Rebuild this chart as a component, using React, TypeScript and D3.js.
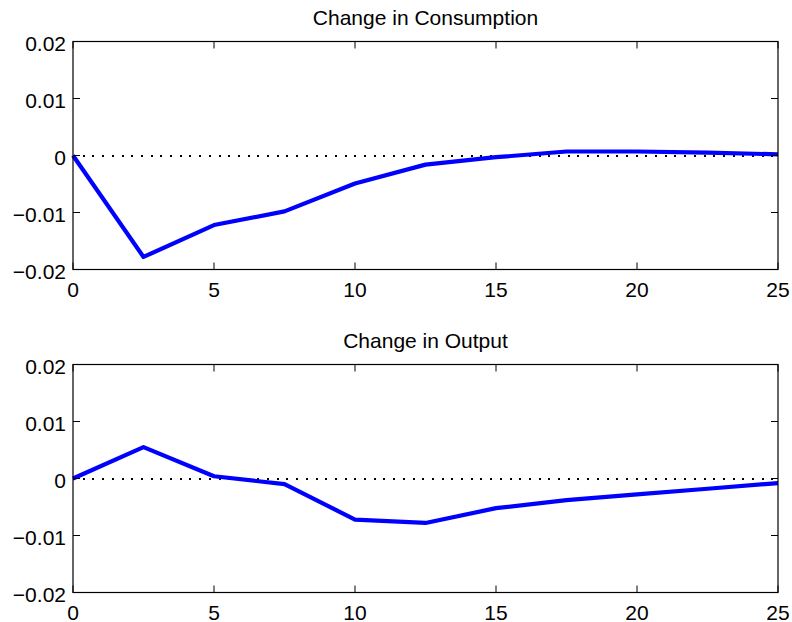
import React from "react";
import * as d3 from "d3";

const periods = [0, 2.5, 5, 7.5, 10, 12.5, 15, 17.5, 20, 22.5, 25];
const consumption = [0, -0.0178, -0.0122, -0.0098, -0.0049, -0.0016, -0.0003, 0.0007, 0.0007, 0.0005, 0.0002];
const output = [0, 0.0055, 0.0004, -0.001, -0.0072, -0.0078, -0.0052, -0.0038, -0.0028, -0.0018, -0.0008];
const xTicks = [0, 5, 10, 15, 20, 25];
const yTicks = [-0.02, -0.01, 0, 0.01, 0.02];
const yTickLabels = ["\u22120.02", "\u22120.01", "0", "0.01", "0.02"];
const titles = ["Change in Consumption", "Change in Output"];

const W = 792;
const H = 622;
const left = 73;
const right = 778;
const panelTops = [41.5, 364.5];
const panelH = 228;
const FS = 21;
const FONT = "'Liberation Sans', Arial, Helvetica, sans-serif";

function Panel({ top, title, values }: { top: number; title: string; values: number[] }) {
  const x = d3.scaleLinear().domain([0, 25]).range([left, right]);
  const y = d3.scaleLinear().domain([-0.02, 0.02]).range([top + panelH, top]);
  const line = d3
    .line<number>()
    .x((_, i) => x(periods[i]))
    .y((d) => y(d));
  const tl = 7;
  return (
    <g>
      <text x={(left + right) / 2} y={top - 16.5} textAnchor="middle" fontSize={FS} fontFamily={FONT}>
        {title}
      </text>
      <line
        x1={x(0)}
        x2={x(25)}
        y1={Math.round(y(0))}
        y2={Math.round(y(0))}
        stroke="#000"
        strokeWidth={2}
        strokeDasharray="2 7.7"
        shapeRendering="crispEdges"
      />
      <path d={line(values) || ""} fill="none" stroke="#0000ff" strokeWidth={4.2} strokeLinejoin="round" />
      <rect x={left} y={top} width={right - left} height={panelH} fill="none" stroke="#000" strokeWidth={1.2} />
      {xTicks.map((t) => (
        <g key={"x" + t}>
          <line x1={x(t)} x2={x(t)} y1={top + panelH} y2={top + panelH - tl} stroke="#000" strokeWidth={1} />
          <line x1={x(t)} x2={x(t)} y1={top} y2={top + tl} stroke="#000" strokeWidth={1} />
          <text x={x(t)} y={top + panelH + 27} textAnchor="middle" fontSize={FS} fontFamily={FONT}>
            {t}
          </text>
        </g>
      ))}
      {yTicks.map((t, i) => (
        <g key={"y" + t}>
          <line x1={left} x2={left + tl} y1={y(t)} y2={y(t)} stroke="#000" strokeWidth={1} />
          <line x1={right} x2={right - tl} y1={y(t)} y2={y(t)} stroke="#000" strokeWidth={1} />
          <text x={left - 7} y={y(t) + 9.5} textAnchor="end" fontSize={FS} fontFamily={FONT}>
            {yTickLabels[i]}
          </text>
        </g>
      ))}
    </g>
  );
}

export default function App() {
  return (
    <svg width={W} height={H} style={{ position: "absolute", left: 0, top: 0, background: "#fff" }}>
      <rect width={W} height={H} fill="#fff" />
      <Panel top={panelTops[0]} title={titles[0]} values={consumption} />
      <Panel top={panelTops[1]} title={titles[1]} values={output} />
    </svg>
  );
}
